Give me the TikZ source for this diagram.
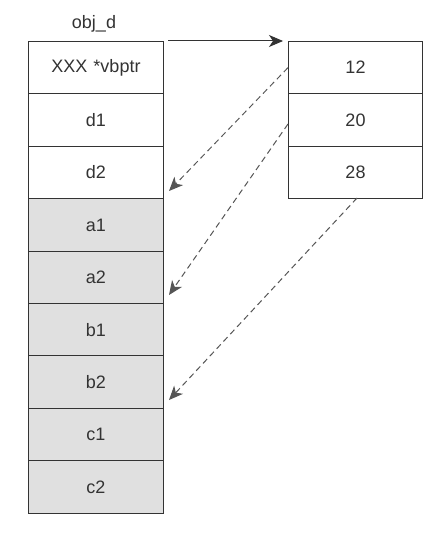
\documentclass[tikz,border=0pt]{standalone}
\usepackage{fontspec}
\setmainfont{Liberation Sans}
\usetikzlibrary{arrows.meta}
\definecolor{linec}{HTML}{333333}
\definecolor{txtc}{HTML}{333333}
\definecolor{cellg}{HTML}{E0E0E0}
\definecolor{dashc}{HTML}{555555}
\begin{document}
\begin{tikzpicture}[x=1pt,y=-1pt,
  cell/.style={draw=linec, line width=1pt, minimum width=135pt, minimum height=52.4pt, inner sep=0pt, text=txtc, font=\fontsize{18}{21}\selectfont, anchor=north west},
  rcell/.style={cell, minimum width=134pt, minimum height=52.3pt},
  gcell/.style={cell, fill=cellg},
  solidarrow/.style={draw=linec, line width=1pt, -{Stealth[length=14pt,width=12pt,inset=4pt]}},
  dasharrow/.style={draw=dashc, line width=1pt, dash pattern=on 6pt off 4pt, -{Stealth[length=14pt,width=12pt,inset=4pt]}}
]
\useasboundingbox (0,0) rectangle (436,537);
\fill[white] (0,0) rectangle (436,537);
\node[cell]  (vb) at (28,41)    {XXX\hspace{1pt} *vbptr};
\node[cell]  (d1) at (28,93.4)  {d1};
\node[cell]  (d2) at (28,145.8) {d2};
\node[gcell] (a1) at (28,198.2) {a1};
\node[gcell] (a2) at (28,250.6) {a2};
\node[gcell] (b1) at (28,303)   {b1};
\node[gcell] (b2) at (28,355.4) {b2};
\node[gcell] (c1) at (28,407.8) {c1};
\node[gcell] (c2) at (28,460.2) {c2};
\node[text=txtc, font=\fontsize{18}{21}\selectfont] (lbl) at (94,24) {obj\_d};
\node[rcell] (r1) at (288,41)    {12};
\node[rcell] (r2) at (288,93.3)  {20};
\node[rcell] (r3) at (288,145.6) {28};
\coordinate (s0) at (168,41);
\coordinate (t0) at (283,41);
\coordinate (s2) at (288,124);
\coordinate (e1) at (169,191);
\coordinate (e2) at (169,295);
\coordinate (e3) at (169,400);
\coordinate (s3) at (357,198);
\draw[solidarrow] (s0) -- (t0);
\draw[dasharrow] (r1.west) -- (e1);
\draw[dasharrow] (s2) -- (e2);
\draw[dasharrow] (s3) -- (e3);
\end{tikzpicture}
\end{document}
